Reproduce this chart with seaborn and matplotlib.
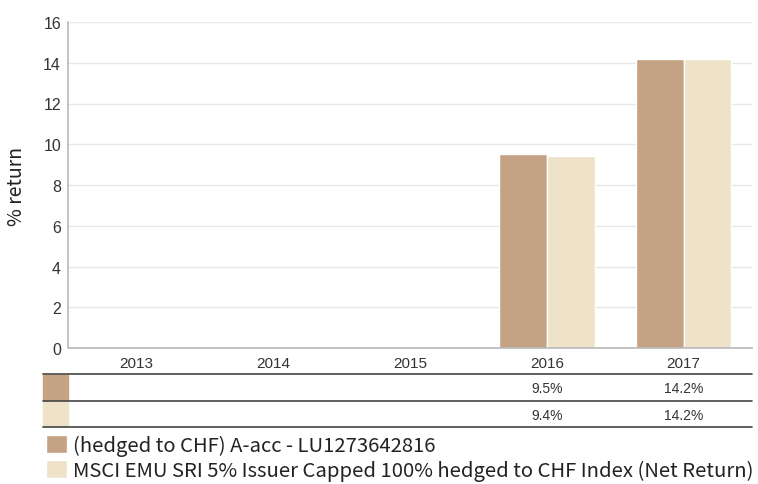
import numpy as np
import pandas as pd
import matplotlib
matplotlib.use("Agg")
import matplotlib.pyplot as plt
import seaborn as sns

years = ["2013", "2014", "2015", "2016", "2017"]
fund_name = "(hedged to CHF) A-acc - LU1273642816"
index_name = "MSCI EMU SRI 5% Issuer Capped 100% hedged to CHF Index (Net Return)"
fund_values = [np.nan, np.nan, np.nan, 9.5, 14.2]
index_values = [np.nan, np.nan, np.nan, 9.4, 14.2]
fund_labels = ["", "", "", "9.5%", "14.2%"]
index_labels = ["", "", "", "9.4%", "14.2%"]
yticks = [0, 2, 4, 6, 8, 10, 12, 14, 16]

c_fund = "#C4A283"
c_index = "#EEE3C8"

df = pd.DataFrame({
    "year": years * 2,
    "value": fund_values + index_values,
    "series": [fund_name] * 5 + [index_name] * 5,
})

sns.set_theme(style="white")
plt.rcParams["font.family"] = ["Liberation Sans", "DejaVu Sans"]

W, H = 758, 485
fig = plt.figure(figsize=(W / 100, H / 100), dpi=100)
ax = fig.add_axes([68 / W, 1 - 349 / H, (752 - 68) / W, (349 - 23) / H])

sns.barplot(data=df.dropna(), x="year", y="value", hue="series", order=years,
            hue_order=[fund_name, index_name], palette=[c_fund, c_index],
            saturation=1, width=0.7, gap=0.0, edgecolor="white", linewidth=1.0, ax=ax)

ax.set_ylim(0, 16)
ax.set_yticks(yticks)
ax.set_yticklabels([str(t) for t in yticks], fontsize=11.5, color="#333333")
ax.set_xlim(-0.5, 4.5)
ax.set_xticks(range(len(years)))
ax.set_xticklabels(years, fontsize=11, color="#333333")
ax.tick_params(axis="x", length=0, pad=6)
ax.tick_params(axis="y", length=0, pad=5)
ax.yaxis.grid(True, color="#e8e8e8", linewidth=1)
ax.set_axisbelow(True)
for s in ["top", "right"]:
    ax.spines[s].set_visible(False)
ax.spines["left"].set_color("#bbbbbb")
ax.spines["bottom"].set_color("#bbbbbb")
ax.set_xlabel("")
ax.set_ylabel("% return", fontsize=14, color="#222222", labelpad=12,
              family=["Noto Sans CJK KR", "DejaVu Sans"])

handles, labels = ax.get_legend_handles_labels()
ax.get_legend().remove()

# table lines
for yy in [375, 402, 428]:
    fig.add_artist(plt.Line2D([43 / W, 752 / W], [1 - yy / H, 1 - yy / H],
                              color="#444444", linewidth=1.2))
# swatches in table
for (y0, y1), col in zip([(376, 401), (403, 427)], [c_fund, c_index]):
    fig.add_artist(plt.Rectangle((43 / W, 1 - y1 / H), 25 / W, (y1 - y0) / H,
                                 color=col, transform=fig.transFigure))

trans = matplotlib.transforms.blended_transform_factory(ax.transData, fig.transFigure)
for i, (a, b) in enumerate(zip(fund_labels, index_labels)):
    ax.text(i, 1 - 389 / H, a, transform=trans, ha="center", va="center",
            fontsize=10, color="#333333")
    ax.text(i, 1 - 416 / H, b, transform=trans, ha="center", va="center",
            fontsize=10, color="#333333")

leg = fig.legend(handles, labels, loc="upper left", bbox_to_anchor=(46 / W, 1 - 436 / H),
                 frameon=False, handlelength=1.05, handleheight=1.0,
                 handletextpad=0.3, labelspacing=0.2, borderaxespad=0, borderpad=0,
                 prop={"family": ["Noto Sans CJK KR", "DejaVu Sans"], "size": 14.6})
for t in leg.get_texts():
    t.set_color("#222222")

fig.savefig("out.png", dpi=100)
